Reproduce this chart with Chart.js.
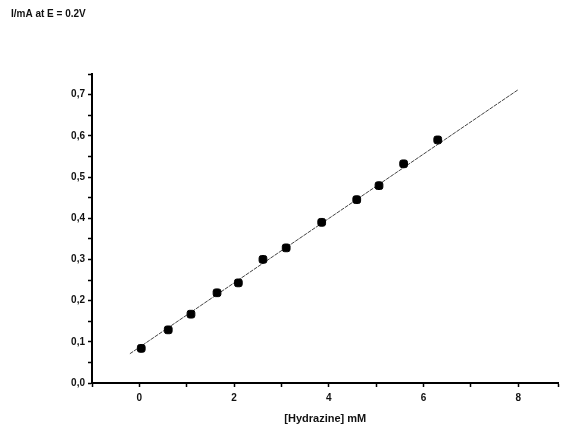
<!DOCTYPE html>
<html>
<head>
<meta charset="utf-8">
<script src="https://cdn.jsdelivr.net/npm/chart.js@4"></script>
<style>
  html, body { margin: 0; padding: 0; background: #fff; }
  #wrap { width: 564px; height: 436px; }
</style>
</head>
<body>
<div id="wrap"><canvas id="hydChart"></canvas></div>
<script>
var concX = [0.04, 0.61, 1.09, 1.64, 2.09, 2.61, 3.10, 3.85, 4.59, 5.06, 5.58, 6.30];
var currentY = [0.084, 0.129, 0.167, 0.219, 0.243, 0.300, 0.328, 0.390, 0.445, 0.479, 0.532, 0.590];

// linear fit line end points
var fitX = [-0.2, 8.0];
var fitY = [0.071, 0.712];

var xTicks = [0, 2, 4, 6, 8];
var yTicks = [0.0, 0.1, 0.2, 0.3, 0.4, 0.5, 0.6, 0.7];

var yTitle = "I/mA at E = 0.2V";
var xTitle = "[Hydrazine] mM";

var pointData = [];
for (var i = 0; i < concX.length; i++) {
    pointData.push({ x: concX[i], y: currentY[i] });
}
var fitData = [];
for (var i = 0; i < fitX.length; i++) {
    fitData.push({ x: fitX[i], y: fitY[i] });
}

const topTitle = {
    id: "topTitle",
    afterDraw(chart) {
        var ctx = chart.ctx;
        ctx.save();
        ctx.fillStyle = "#111";
        ctx.font = "bold 10px 'Liberation Sans', Arial, sans-serif";
        ctx.textBaseline = "middle";
        ctx.fillText(yTitle, 11, 14);
        ctx.restore();
    }
};

function isMajor(v, list) {
    for (var k = 0; k < list.length; k++) {
        if (Math.abs(list[k] - v) < 1e-6) return true;
    }
    return false;
}

var tickFont = { family: "'Liberation Sans', Arial, sans-serif", size: 10, weight: "bold" };

var hydChart = new Chart(document.getElementById("hydChart"), {
    type: "scatter",
    data: {
        datasets: [{
            label: "fit",
            data: fitData,
            showLine: true,
            borderColor: "#444",
            borderWidth: 1,
            borderDash: [4, 1],
            pointRadius: 0,
            order: 2
        }, {
            label: "data",
            data: pointData,
            pointStyle: "rectRounded",
            pointRadius: 4.5,
            backgroundColor: "#000",
            borderColor: "#000",
            order: 1
        }]
    },
    plugins: [topTitle],
    options: {
        responsive: true,
        maintainAspectRatio: false,
        animation: false,
        layout: { padding: { top: 74, left: 0, right: 0, bottom: 0 } },
        plugins: {
            legend: { display: false },
            tooltip: { enabled: false }
        },
        scales: {
            x: {
                type: "linear",
                min: -1,
                max: 8.85,
                afterFit: function (s) { s.height = 53; },
                border: { color: "#000", width: 2 },
                grid: { drawOnChartArea: false, tickLength: 4, color: "#000", tickWidth: 1.5 },
                ticks: {
                    stepSize: 1,
                    color: "#111",
                    font: tickFont,
                    padding: 5,
                    autoSkip: false,
                    maxRotation: 0,
                    callback: function (v) { return isMajor(v, xTicks) ? String(v) : ""; }
                },
                title: {
                    display: true,
                    text: xTitle,
                    color: "#111",
                    font: { family: "'Liberation Sans', Arial, sans-serif", size: 11, weight: "bold" },
                    padding: { top: 2, bottom: 10 }
                }
            },
            y: {
                type: "linear",
                min: 0,
                max: 0.75,
                afterFit: function (s) { s.width = 92; },
                border: { color: "#000", width: 2 },
                grid: { drawOnChartArea: false, tickLength: 4, color: "#000", tickWidth: 1.5 },
                ticks: {
                    stepSize: 0.05,
                    color: "#111",
                    font: tickFont,
                    padding: 3,
                    autoSkip: false,
                    callback: function (v) {
                        return isMajor(v, yTicks) ? v.toFixed(1).replace(".", ",") : "";
                    }
                }
            }
        }
    }
});
</script>
</body>
</html>
